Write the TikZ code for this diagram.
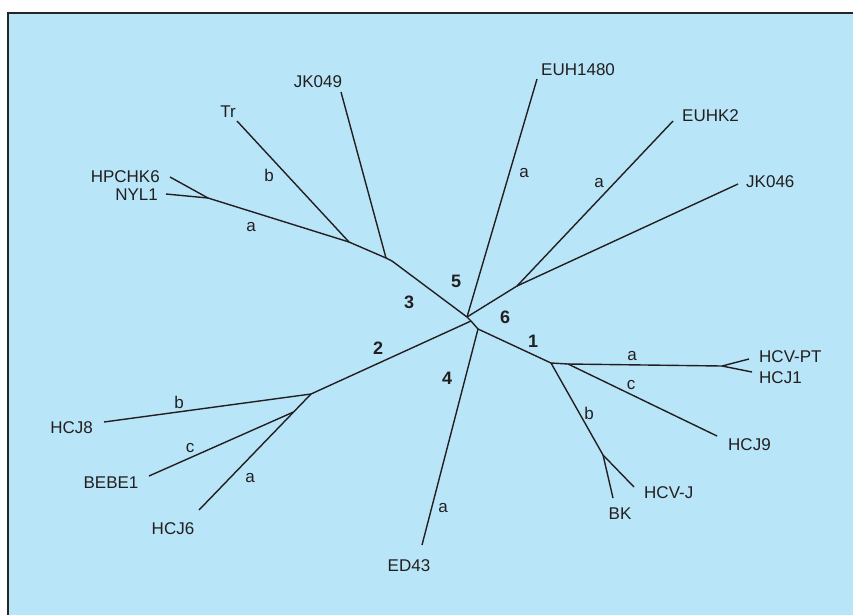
\documentclass[tikz,border=0pt]{standalone}
\usepackage{fontspec}
\setmainfont{Liberation Sans}
\definecolor{bg}{HTML}{B9E5F9}
\definecolor{ink}{HTML}{231F20}
\begin{document}
\begin{tikzpicture}[x=1pt,y=-1pt,
 branch/.style={draw=ink,line width=1.4pt,line join=miter},
 taxon/.style={inner sep=0pt,text=ink,font=\fontsize{17}{19}\selectfont},
 sub/.style={inner sep=0pt,text=ink,font=\fontsize{17}{19}\selectfont},
 geno/.style={inner sep=0pt,text=ink,font=\fontsize{18}{20}\selectfont\bfseries}]
\useasboundingbox (0,0) rectangle (853,614);
\fill[white] (0,0) rectangle (853,614);
\draw[fill=bg,draw=black!85,line width=1.2pt] (8,13) rectangle (880,640);

% internal points
\coordinate (A) at (467,317);
\coordinate (C) at (471,321);
\coordinate (B) at (478,329);
% genotype 3
\coordinate (n3) at (392,261);
\coordinate (jkb) at (386,258);
\coordinate (trb) at (349,242);
\coordinate (hpj) at (208,198);
\coordinate (tJK049) at (341,92);
\coordinate (tTr) at (237,121);
\coordinate (tHP) at (170,177);
\coordinate (tNY) at (166,194);
% genotype 5
\coordinate (tEUH) at (537,79);
% genotype 6
\coordinate (j6) at (517,286);
\coordinate (tEUHK2) at (673,121);
\coordinate (tJK046) at (738,184);
% genotype 2
\coordinate (g2) at (311,394);
\coordinate (g2b) at (293.5,412);
\coordinate (tHCJ8) at (104,422);
\coordinate (tHCJ6) at (199,510);
\coordinate (tBEBE) at (149,476);
% genotype 4
\coordinate (tED) at (422,545);
% genotype 1
\coordinate (j1) at (551,363);
\coordinate (j1c) at (568,364);
\coordinate (j1a) at (722,366);
\coordinate (tPT) at (749,359);
\coordinate (tHCJ1) at (752,372);
\coordinate (tHCJ9) at (717,436);
\coordinate (j1b) at (603,455);
\coordinate (tBK) at (613,498);
\coordinate (tHCVJ) at (634,487);

% branches
\draw[branch] (A) -- (C) -- (B);
\draw[branch] (A) -- (n3) -- (jkb) -- (trb) -- (hpj) -- (tHP);
\draw[branch] (hpj) -- (tNY);
\draw[branch] (trb) -- (tTr);
\draw[branch] (jkb) -- (tJK049);
\draw[branch] (A) -- (tEUH);
\draw[branch] (A) -- (j6) -- (tEUHK2);
\draw[branch] (j6) -- (tJK046);
\draw[branch] (C) -- (g2) -- (tHCJ8);
\draw[branch] (g2) -- (tHCJ6);
\draw[branch] (g2b) -- (tBEBE);
\draw[branch] (B) -- (tED);
\draw[branch] (B) -- (j1) -- (j1c) -- (j1a) -- (tPT);
\draw[branch] (j1a) -- (tHCJ1);
\draw[branch] (j1c) -- (tHCJ9);
\draw[branch] (j1) -- (j1b) -- (tBK);
\draw[branch] (j1b) -- (tHCVJ);

% taxon labels
\node[taxon] (lJK049) at (318,82) {JK049};
\node[taxon] (lTr) at (228,112) {Tr};
\node[taxon,anchor=east] (lHP) at (160,177) {HPCHK6};
\node[taxon,anchor=east] (lNY) at (158,195) {NYL1};
\node[taxon,anchor=west] (lEUH) at (541,70) {EUH1480};
\node[taxon,anchor=west] (lEUHK2) at (682,116) {EUHK2};
\node[taxon,anchor=west] (lJK046) at (746,182) {JK046};
\node[taxon,anchor=west] (lPT) at (759,357) {HCV-PT};
\node[taxon,anchor=west] (lHCJ1) at (759,378) {HCJ1};
\node[taxon,anchor=west] (lHCJ9) at (728,445) {HCJ9};
\node[taxon,anchor=west] (lHCVJ) at (644,493) {HCV-J};
\node[taxon] (lBK) at (620,514) {BK};
\node[taxon] (lED) at (409,566) {ED43};
\node[taxon] (lHCJ6) at (173,529) {HCJ6};
\node[taxon] (lBEBE) at (111,483) {BEBE1};
\node[taxon,anchor=east] (lHCJ8) at (93,428) {HCJ8};

% subtype labels
\node[sub] (s3b) at (269,175) {b};
\node[sub] (s3a) at (251,227) {a};
\node[sub] (s5a) at (524,173) {a};
\node[sub] (s6a) at (599,183) {a};
\node[sub] (s2b) at (179,402) {b};
\node[sub] (s2c) at (190,448) {c};
\node[sub] (s2a) at (250,478) {a};
\node[sub] (s4a) at (443,508) {a};
\node[sub] (s1a) at (632,356) {a};
\node[sub] (s1c) at (631,385) {c};
\node[sub] (s1b) at (589,413) {b};

% genotype numbers
\node[geno] (g5) at (456,281) {5};
\node[geno] (g6) at (505,317) {6};
\node[geno] (g3) at (409,302) {3};
\node[geno] (gg2) at (378,348) {2};
\node[geno] (g4) at (447,378) {4};
\node[geno] (g1) at (533,341) {1};
\end{tikzpicture}
\end{document}
